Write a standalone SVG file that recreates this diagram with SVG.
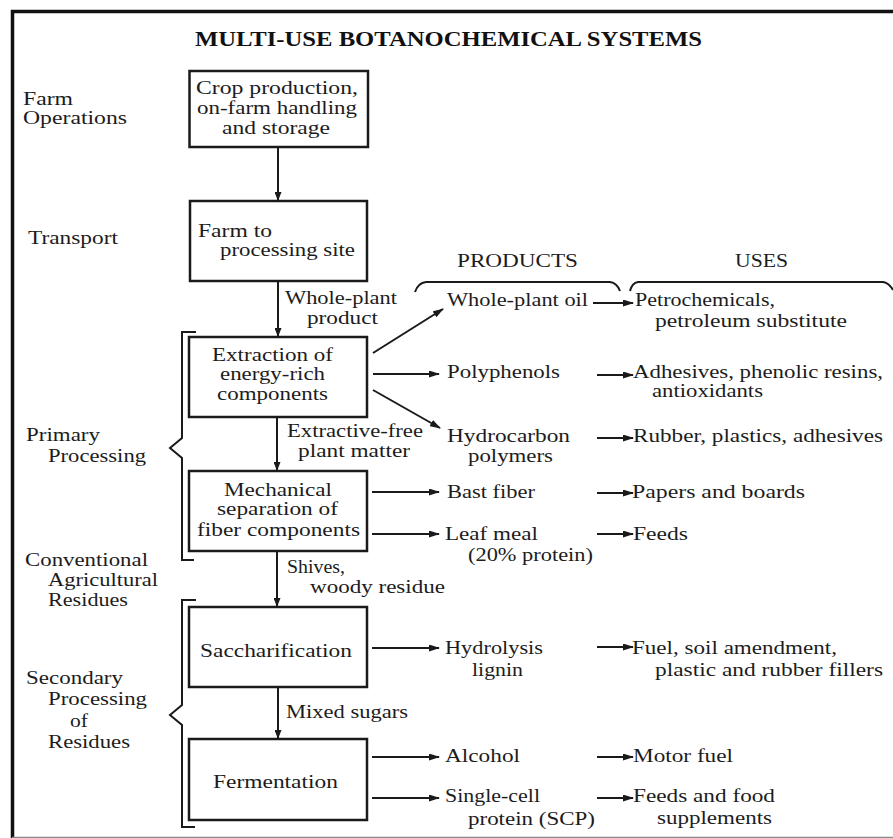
<svg xmlns="http://www.w3.org/2000/svg" width="893" height="838" viewBox="0 0 893 838">
<style>
text{font-family:"Liberation Serif","Times New Roman",serif;font-size:18px;fill:#1c1c1c}
.title{font-weight:bold;font-size:21px;fill:#111}
.hdr{font-size:18px}
.box{fill:#fff;stroke:#1a1a1a;stroke-width:2.5}
.ln{fill:none;stroke:#1a1a1a;stroke-width:2}
.arr{fill:none;stroke:#1a1a1a;stroke-width:2;marker-end:url(#ah)}
.varr{fill:none;stroke:#1a1a1a;stroke-width:2;marker-end:url(#vh)}
.frame{fill:none;stroke:#111;stroke-width:3.5}
</style>
<defs>
<marker id="ah" markerUnits="userSpaceOnUse" markerWidth="11" markerHeight="7" refX="10" refY="3.5" orient="auto"><path d="M0,0 L11,3.5 L0,7 z" fill="#1a1a1a"/></marker>
<marker id="vh" markerUnits="userSpaceOnUse" markerWidth="9" markerHeight="7" refX="8" refY="3.5" orient="auto"><path d="M0,0 L9,3.5 L0,7 z" fill="#1a1a1a"/></marker>
</defs>
<rect width="893" height="838" fill="#fff"/>
<g id="frame">
<path class="frame" d="M12.5,838 L12.5,11.5 L893,11.5"/>
<line x1="12" y1="837.5" x2="893" y2="837.5" stroke="#888" stroke-width="1.5"/>
</g>
<g id="title"><text class="title" x="195" y="46" textLength="507" lengthAdjust="spacingAndGlyphs">MULTI-USE BOTANOCHEMICAL SYSTEMS</text></g>
<g id="stage-labels">
<text x="23" y="105" textLength="50" lengthAdjust="spacingAndGlyphs">Farm</text>
<text x="23" y="124" textLength="104" lengthAdjust="spacingAndGlyphs">Operations</text>
<text x="28" y="244" textLength="90" lengthAdjust="spacingAndGlyphs">Transport</text>
<text x="26" y="441" textLength="74" lengthAdjust="spacingAndGlyphs">Primary</text>
<text x="48" y="462" textLength="98" lengthAdjust="spacingAndGlyphs">Processing</text>
<text x="25" y="566" textLength="123" lengthAdjust="spacingAndGlyphs">Conventional</text>
<text x="48" y="586" textLength="110" lengthAdjust="spacingAndGlyphs">Agricultural</text>
<text x="48" y="606" textLength="80" lengthAdjust="spacingAndGlyphs">Residues</text>
<text x="26" y="684" textLength="97" lengthAdjust="spacingAndGlyphs">Secondary</text>
<text x="48" y="705" textLength="99" lengthAdjust="spacingAndGlyphs">Processing</text>
<text x="70" y="727" textLength="18" lengthAdjust="spacingAndGlyphs">of</text>
<text x="48" y="748" textLength="82" lengthAdjust="spacingAndGlyphs">Residues</text>
</g>
<g id="brackets">
<path class="ln" d="M196,332 L182,332 L182,438 L170,448 L182,458 L182,560 L194,560"/>
<path class="ln" d="M196,600 L182,600 L182,705 L170,715 L182,725 L182,827 L195,827"/>
<path class="ln" d="M415,292 Q418,283 426,282 L610,282 Q617,283 620,291"/>
<path class="ln" d="M630,291 Q632,283 638,282 L883,282 Q889,283 893,290" stroke-width="2.6"/>
</g>
<g id="headers">
<text class="hdr" x="457" y="267" textLength="121" lengthAdjust="spacingAndGlyphs">PRODUCTS</text>
<text class="hdr" x="735" y="267" textLength="53" lengthAdjust="spacingAndGlyphs">USES</text>
</g>
<g id="crop-production">
<rect class="box" x="189.5" y="71" width="178.5" height="76"/>
<text x="196" y="94" textLength="162" lengthAdjust="spacingAndGlyphs">Crop production,</text>
<text x="197" y="114" textLength="160" lengthAdjust="spacingAndGlyphs">on-farm handling</text>
<text x="222" y="134" textLength="108" lengthAdjust="spacingAndGlyphs">and storage</text>
</g>
<g id="farm-to-processing">
<rect class="box" x="190" y="201" width="177" height="80"/>
<text x="198" y="237" textLength="74" lengthAdjust="spacingAndGlyphs">Farm to</text>
<text x="220" y="256" textLength="135" lengthAdjust="spacingAndGlyphs">processing site</text>
</g>
<g id="extraction">
<rect class="box" x="189" y="337" width="178" height="80"/>
<text x="212" y="361" textLength="121" lengthAdjust="spacingAndGlyphs">Extraction of</text>
<text x="220" y="380" textLength="105" lengthAdjust="spacingAndGlyphs">energy-rich</text>
<text x="217" y="400" textLength="111" lengthAdjust="spacingAndGlyphs">components</text>
</g>
<g id="mechanical-separation">
<rect class="box" x="189" y="471" width="178" height="80"/>
<text x="224" y="496" textLength="108" lengthAdjust="spacingAndGlyphs">Mechanical</text>
<text x="217" y="515" textLength="121" lengthAdjust="spacingAndGlyphs">separation of</text>
<text x="197" y="536" textLength="163" lengthAdjust="spacingAndGlyphs">fiber components</text>
</g>
<g id="saccharification">
<rect class="box" x="189" y="607" width="178" height="80"/>
<text x="200" y="657" textLength="152" lengthAdjust="spacingAndGlyphs">Saccharification</text>
</g>
<g id="fermentation">
<rect class="box" x="189" y="739" width="178" height="81"/>
<text x="213" y="788" textLength="125" lengthAdjust="spacingAndGlyphs">Fermentation</text>
</g>
<g id="flow-labels">
<text x="285" y="304" textLength="112" lengthAdjust="spacingAndGlyphs">Whole-plant</text>
<text x="307" y="324" textLength="71" lengthAdjust="spacingAndGlyphs">product</text>
<text x="287" y="437" textLength="136" lengthAdjust="spacingAndGlyphs">Extractive-free</text>
<text x="298" y="457" textLength="112" lengthAdjust="spacingAndGlyphs">plant matter</text>
<text x="287" y="573" textLength="58" lengthAdjust="spacingAndGlyphs">Shives,</text>
<text x="310" y="593" textLength="135" lengthAdjust="spacingAndGlyphs">woody residue</text>
<text x="286" y="718" textLength="122" lengthAdjust="spacingAndGlyphs">Mixed sugars</text>
</g>
<g id="products">
<text x="447" y="306" textLength="141" lengthAdjust="spacingAndGlyphs">Whole-plant oil</text>
<text x="447" y="378" textLength="113" lengthAdjust="spacingAndGlyphs">Polyphenols</text>
<text x="447" y="442" textLength="123" lengthAdjust="spacingAndGlyphs">Hydrocarbon</text>
<text x="468" y="462" textLength="85" lengthAdjust="spacingAndGlyphs">polymers</text>
<text x="447" y="498" textLength="88" lengthAdjust="spacingAndGlyphs">Bast fiber</text>
<text x="445" y="540" textLength="93" lengthAdjust="spacingAndGlyphs">Leaf meal</text>
<text x="468" y="561" textLength="125" lengthAdjust="spacingAndGlyphs">(20% protein)</text>
<text x="445" y="654" textLength="98" lengthAdjust="spacingAndGlyphs">Hydrolysis</text>
<text x="472" y="676" textLength="51" lengthAdjust="spacingAndGlyphs">lignin</text>
<text x="445" y="762" textLength="75" lengthAdjust="spacingAndGlyphs">Alcohol</text>
<text x="445" y="802" textLength="95" lengthAdjust="spacingAndGlyphs">Single-cell</text>
<text x="468" y="825" textLength="127" lengthAdjust="spacingAndGlyphs">protein (SCP)</text>
</g>
<g id="uses">
<text x="635" y="306" textLength="140" lengthAdjust="spacingAndGlyphs">Petrochemicals,</text>
<text x="655" y="327" textLength="192" lengthAdjust="spacingAndGlyphs">petroleum substitute</text>
<text x="633" y="378" textLength="250" lengthAdjust="spacingAndGlyphs">Adhesives, phenolic resins,</text>
<text x="652" y="397" textLength="111" lengthAdjust="spacingAndGlyphs">antioxidants</text>
<text x="633" y="442" textLength="250" lengthAdjust="spacingAndGlyphs">Rubber, plastics, adhesives</text>
<text x="632" y="498" textLength="173" lengthAdjust="spacingAndGlyphs">Papers and boards</text>
<text x="633" y="540" textLength="55" lengthAdjust="spacingAndGlyphs">Feeds</text>
<text x="632" y="654" textLength="205" lengthAdjust="spacingAndGlyphs">Fuel, soil amendment,</text>
<text x="655" y="676" textLength="228" lengthAdjust="spacingAndGlyphs">plastic and rubber fillers</text>
<text x="633" y="762" textLength="100" lengthAdjust="spacingAndGlyphs">Motor fuel</text>
<text x="633" y="802" textLength="142" lengthAdjust="spacingAndGlyphs">Feeds and food</text>
<text x="657" y="824" textLength="115" lengthAdjust="spacingAndGlyphs">supplements</text>
</g>
<g id="connectors">
<line class="varr" x1="278" y1="148" x2="278" y2="200"/>
<line class="varr" x1="278" y1="282" x2="278" y2="336"/>
<line class="varr" x1="277" y1="418" x2="277" y2="470"/>
<line class="varr" x1="277" y1="552" x2="277" y2="606"/>
<line class="varr" x1="278" y1="688" x2="278" y2="738"/>
<line class="arr" x1="373" y1="353" x2="443" y2="309"/>
<line class="arr" x1="373" y1="374" x2="439" y2="374"/>
<line class="arr" x1="373" y1="390" x2="440" y2="428"/>
<line class="arr" x1="372" y1="492" x2="439" y2="492"/>
<line class="arr" x1="372" y1="534" x2="439" y2="534"/>
<line class="arr" x1="372" y1="648" x2="439" y2="648"/>
<line class="arr" x1="372" y1="757" x2="439" y2="757"/>
<line class="arr" x1="372" y1="798" x2="439" y2="798"/>
<line class="arr" x1="593" y1="303" x2="633" y2="303"/>
<line class="arr" x1="597" y1="375" x2="633" y2="375"/>
<line class="arr" x1="597" y1="438" x2="633" y2="438"/>
<line class="arr" x1="597" y1="493" x2="633" y2="493"/>
<line class="arr" x1="597" y1="534" x2="633" y2="534"/>
<line class="arr" x1="597" y1="647" x2="633" y2="647"/>
<line class="arr" x1="597" y1="757" x2="633" y2="757"/>
<line class="arr" x1="597" y1="798" x2="633" y2="798"/>
</g>
</svg>
